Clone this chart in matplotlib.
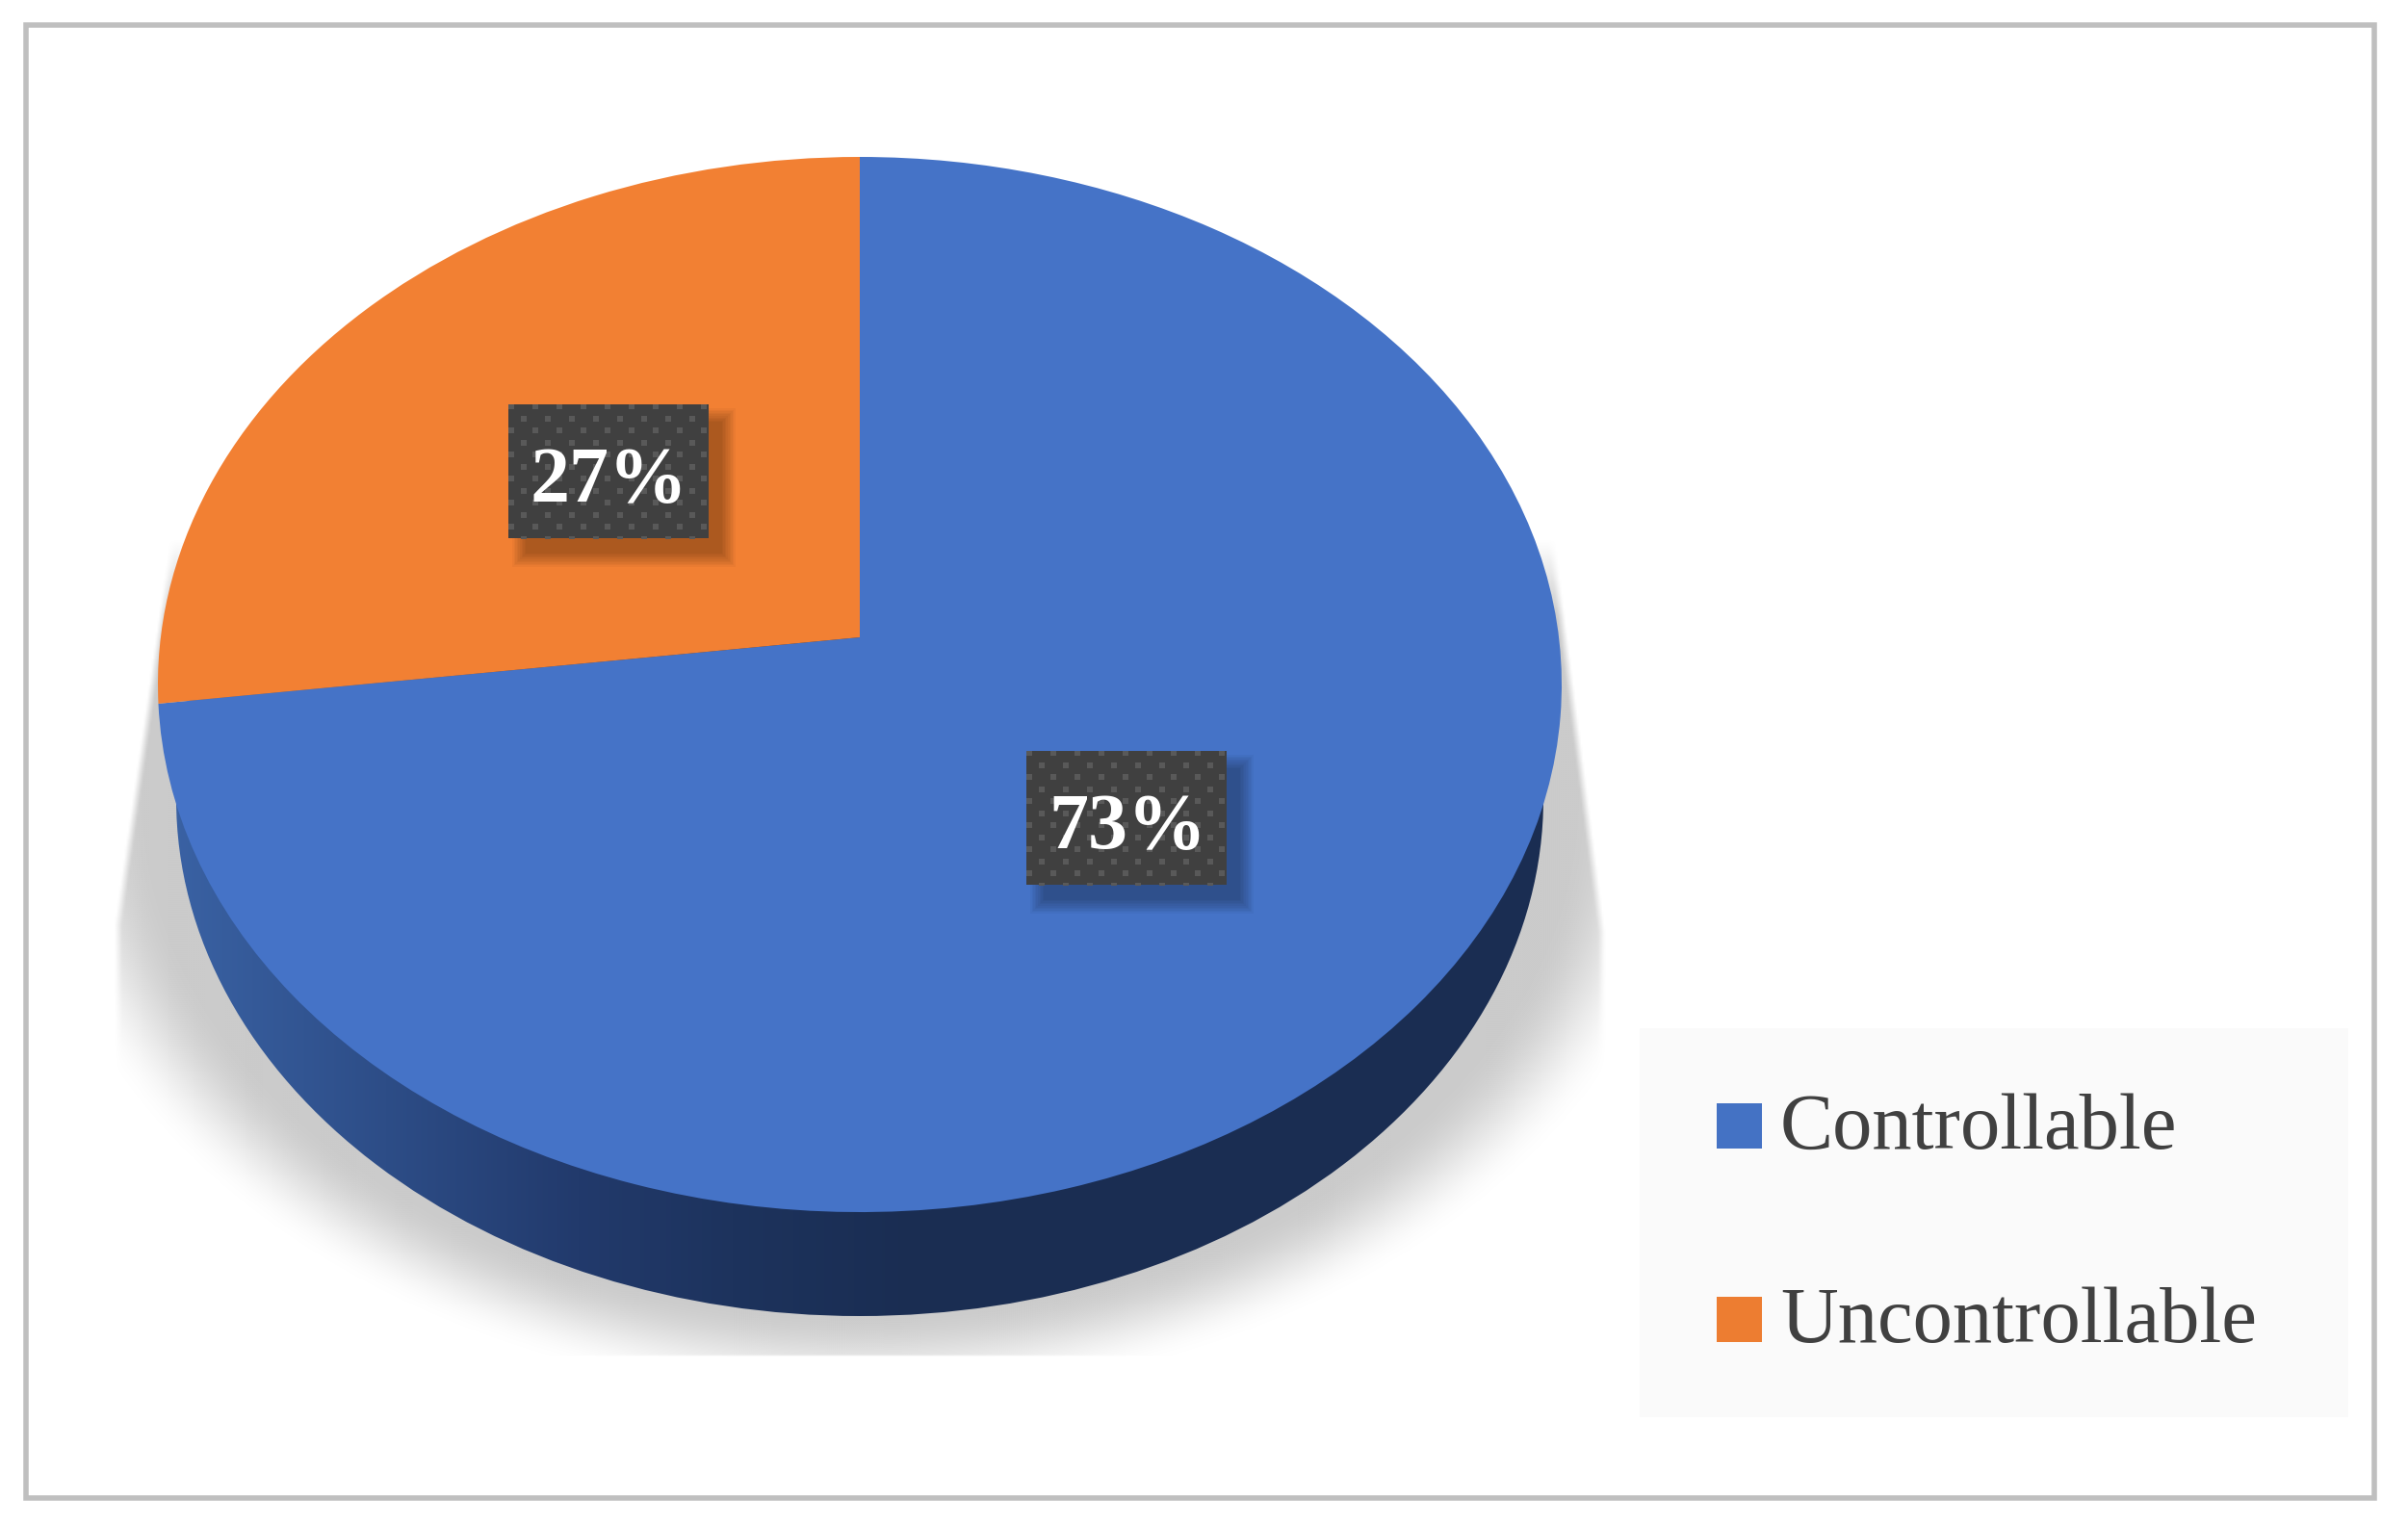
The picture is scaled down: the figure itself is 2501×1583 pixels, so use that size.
import numpy as np
import matplotlib
matplotlib.use("Agg")
import matplotlib.pyplot as plt
from matplotlib.patches import Rectangle, Ellipse
from matplotlib.transforms import Transform

labels = ["Controllable", "Uncontrollable"]
values = [73, 27]
pct_labels = ["73%", "27%"]

pie_colors = ["#4573c7", "#f28033"]
legend_colors = ["#4472c4", "#ed7d31"]

W, H = 2501, 1583
# top face of the pie, in pixels. apex sits above the ellipse centre (perspective)
cx, cy, rx, ry = 893, 711, 729, 548
a = (711 - 662) / 548


class Tilt(Transform):
    # unit circle -> tilted disc on the page
    input_dims = 2
    output_dims = 2
    is_separable = False
    has_inverse = False

    def transform_non_affine(self, pts):
        pts = np.asarray(pts, dtype=float)
        u, v = pts[:, 0], pts[:, 1]
        d = 1 + a * v
        u2 = u * np.sqrt(1 - a * a) / d
        v2 = (v + a) / d
        return np.column_stack([cx + rx * u2, cy - ry * v2])


fig = plt.figure(figsize=(W / 100, H / 100), dpi=100)
ax = fig.add_axes([0, 0, 1, 1])

# soft shadow under the disc
yy, xx = np.mgrid[0:1420:2, 0:W:2]
r = np.sqrt(((xx - 893) / 820.0) ** 2 + (np.maximum(yy - 830, 0) / 590.0) ** 2)
soft = np.clip((1.06 - r) / 0.16, 0, 1)
soft = soft * soft * (3 - 2 * soft)
left = np.maximum(164 - (yy - 640) * 0.144, 118)
right = np.minimum(1620 + (yy - 600) * 0.128, 1667)
side = np.clip((xx - left) / 8, 0, 1) * np.clip((right - xx) / 8, 0, 1)
alpha = soft * side * np.clip((yy - 560) / 80, 0, 1) * (yy < 1408)
shade = np.zeros(alpha.shape + (4,))
shade[..., :3] = 0xcb / 255
shade[..., 3] = alpha
ax.imshow(shade, extent=(0, W, 1420, 0), aspect="auto", zorder=1, interpolation="bilinear")

# side wall of the disc, gradient clipped to the lower ellipse
stops_x = [177, 400, 600, 760, 950, 1620]
stops_r = [0x3a, 0x2d, 0x22, 0x1d, 0x1a, 0x1a]
stops_g = [0x62, 0x4d, 0x3a, 0x33, 0x2d, 0x2d]
stops_b = [0xa4, 0x87, 0x6c, 0x5d, 0x52, 0x52]
gx = np.arange(0, W)
grad = np.column_stack([np.interp(gx, stops_x, stops_r), np.interp(gx, stops_x, stops_g),
                        np.interp(gx, stops_x, stops_b)])[None, :, :] / 255
im = ax.imshow(grad, extent=(0, W, 1420, 600), aspect="auto", zorder=2)
wall = Ellipse((893, 830), 2 * 710, 2 * 537, transform=ax.transData, fc="none", ec="none")
ax.add_patch(wall)
im.set_clip_path(wall)

# top face
wedges, _ = ax.pie(values, colors=pie_colors, startangle=90, counterclock=False, radius=1)
tilt = Tilt() + ax.transData
for w in wedges:
    w.set_transform(tilt)
    w.set_zorder(3)
    w.set_linewidth(0)
    w.set_clip_on(False)

# data label boxes
box_w, box_h = 208, 139
boxes = [(1066, 780), (528, 420)]
for txt, (bx, by) in zip(pct_labels, boxes):
    for k in range(10):
        ax.add_patch(Rectangle((bx + 4 + k * 1.6, by + 4 + k * 1.6), box_w + 24 - k * 3.2, box_h + 26 - k * 3.2,
                               fc="black", ec="none", alpha=0.03, zorder=4))
    box = Rectangle((bx, by), box_w, box_h, fc="#404040", ec="none", zorder=5)
    ax.add_patch(box)
    px, py = [], []
    for row in range(12):
        off = 3 if row % 2 == 0 else 15.5
        for col in range(9):
            px.append(bx + off + col * 25)
            py.append(by + 2 + row * 12.5)
    dots = ax.scatter(px, py, s=25, marker="s", c="#595959", linewidths=0, zorder=6)
    dots.set_clip_path(box)
    ax.text(bx + box_w / 2 + 1, by + 101, txt, color="white", fontsize=59, family="Liberation Serif",
            weight="bold", ha="center", va="baseline", zorder=7)

# legend
ax.add_patch(Rectangle((1703, 1068), 736, 404, fc="#fafafa", ec="none", zorder=3))
legend_base = [1193, 1394]
for lab, col, base in zip(labels, legend_colors, legend_base):
    ax.add_patch(Rectangle((1783, base - 47), 47, 47, fc=col, ec="none", zorder=4))
    ax.text(1849, base, lab, color="#404040", fontsize=59.5, family="Liberation Serif",
            ha="left", va="baseline", zorder=5)

# outer frame
ax.add_patch(Rectangle((27, 26), 2439, 1530, fc="none", ec="#bfbfbf", lw=4, zorder=8))

ax.set_aspect("auto")
ax.set_xlim(0, W)
ax.set_ylim(H, 0)
ax.axis("off")
fig.savefig("out.png", dpi=100, facecolor="white")
